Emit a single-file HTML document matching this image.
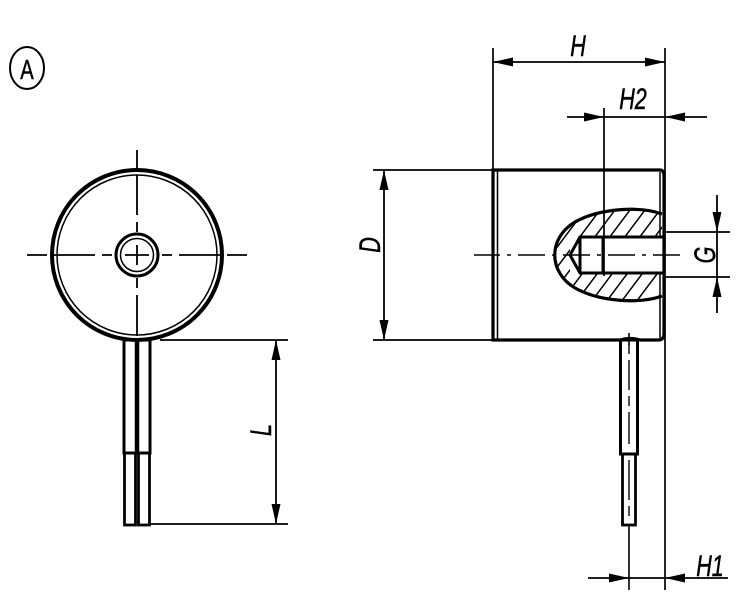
<!DOCTYPE html>
<html><head><meta charset="utf-8"><style>html,body{margin:0;padding:0;background:#fff}svg{display:block}</style></head>
<body>
<svg width="750" height="595" viewBox="0 0 750 595" xmlns="http://www.w3.org/2000/svg" font-family="Liberation Sans, sans-serif" font-style="italic">
<defs>
<marker id="a" viewBox="0 0 20 10" refX="20" refY="5" markerWidth="20" markerHeight="10" markerUnits="userSpaceOnUse" orient="auto"><path d="M0,0.5 L20,5 L0,9.5 z" fill="#000"/></marker>
<clipPath id="ell"><path d="M662,214 C640,206 600,208 575,222 C548,238 548,272 575,288 C600,302 640,304 662,296 Z"/></clipPath>
</defs>
<g stroke="#000" fill="none">
<ellipse cx="27" cy="68" rx="17" ry="21" stroke-width="2"/>
<circle cx="137" cy="255" r="85" stroke-width="4"/>
<circle cx="137" cy="255" r="80" stroke-width="1.5"/>
<circle cx="137" cy="255" r="21" stroke-width="3"/>
<circle cx="137" cy="255" r="16.5" stroke-width="1.5"/>
<path d="M137,150 V170 M137,175 V215 M137,222 V232 M137,245 V265 M137,278 V288 M137,295 V336 M27,255 H47 M52,255 H95 M102,255 H112 M125,255 H149 M162,255 H172 M179,255 H222 M227,255 H247" stroke-width="1.8"/>
<rect x="124" y="340" width="26" height="113" stroke-width="3"/>
<line x1="137" y1="340" x2="137" y2="453" stroke-width="4.5"/>
<rect x="124.5" y="453" width="11" height="72" stroke-width="2.8"/>
<rect x="138.5" y="453" width="11" height="72" stroke-width="2.8"/>
<path d="M160,340 H288 M150,524 H288" stroke-width="1.8"/>
<line x1="276" y1="380" x2="276" y2="340" stroke-width="1.8" marker-end="url(#a)"/>
<line x1="276" y1="480" x2="276" y2="524" stroke-width="1.8" marker-end="url(#a)"/>
<line x1="276" y1="380" x2="276" y2="480" stroke-width="1.8"/>
<path d="M493,170 H660 Q664,170 664,176 V334 Q664,340 658,340 H640 Q630,337 620,340 H493 Z" stroke-width="3.2"/>
<line x1="497.5" y1="171" x2="497.5" y2="339" stroke-width="1.5"/>
<line x1="660" y1="172" x2="660" y2="338" stroke-width="1.5"/>
<g clip-path="url(#ell)" stroke-width="1.5">
<path d="M540,330 L660,170 M555,330 L675,170 M570,330 L690,170 M585,330 L705,170 M600,330 L720,170 M615,330 L735,170 M525,330 L645,170 M510,330 L630,170 M495,330 L615,170"/>
<rect x="570" y="237" width="95" height="36" fill="#fff" stroke="none"/>
</g>
<path d="M662,214 C640,206 600,208 575,222 C548,238 548,272 575,288 C600,302 640,304 662,296" stroke-width="3.2"/>
<path d="M664,237 H580 L570,255 L580,273 H664 M580,237 V273" stroke-width="3"/>
<path d="M603,237 V273" stroke-width="3"/>
<path d="M474,255 H500 M507,255 H511 M518,255 H545 M552,255 H556 M563,255 H590 M597,255 H601 M608,255 H635 M642,255 H646 M653,255 H680" stroke-width="1.6"/>
<rect x="620.5" y="340" width="17" height="114" stroke-width="3"/>
<rect x="622.5" y="454" width="13" height="71" stroke-width="2.8"/>
<path d="M629,344 V354 M629,360 V390 M629,396 V406 M629,412 V444 M629,460 V500 M629,506 V516" stroke-width="1.4"/>
<line x1="629" y1="526" x2="629" y2="590" stroke-width="1.6"/>
<line x1="629" y1="333" x2="629" y2="345" stroke-width="1.6"/>
<path d="M493,48 V170 M665,48 V590 M604,108 V276" stroke-width="1.7"/>
<line x1="580" y1="62" x2="493" y2="62" stroke-width="1.8" marker-end="url(#a)"/>
<line x1="580" y1="62" x2="665" y2="62" stroke-width="1.8" marker-end="url(#a)"/>
<line x1="567" y1="117" x2="604" y2="117" stroke-width="1.8" marker-end="url(#a)"/>
<line x1="707" y1="117" x2="665" y2="117" stroke-width="1.8" marker-end="url(#a)"/>
<line x1="604" y1="117" x2="665" y2="117" stroke-width="1.8"/>
<line x1="588" y1="578" x2="629" y2="578" stroke-width="1.8" marker-end="url(#a)"/>
<line x1="728" y1="578" x2="665" y2="578" stroke-width="1.8" marker-end="url(#a)"/>
<line x1="629" y1="578" x2="665" y2="578" stroke-width="1.8"/>
<path d="M373,170 H493 M373,340 H493" stroke-width="1.8"/>
<line x1="384" y1="255" x2="384" y2="170" stroke-width="1.8" marker-end="url(#a)"/>
<line x1="384" y1="255" x2="384" y2="340" stroke-width="1.8" marker-end="url(#a)"/>
<path d="M664,232 H730 M664,277 H730" stroke-width="1.8"/>
<line x1="717" y1="195" x2="717" y2="232" stroke-width="1.8" marker-end="url(#a)"/>
<line x1="717" y1="313" x2="717" y2="277" stroke-width="1.8" marker-end="url(#a)"/>
<line x1="717" y1="232" x2="717" y2="277" stroke-width="1.8"/>
</g>
<g fill="#000" font-size="30" stroke="#000" stroke-width="0.5">
<text transform="translate(27,79) scale(0.72,1)" text-anchor="middle" font-style="normal" font-size="28">A</text>
<text transform="translate(578,56) scale(0.72,1)" text-anchor="middle">H</text>
<text transform="translate(633,109) scale(0.72,1)" text-anchor="middle">H2</text>
<text transform="translate(710,576) scale(0.72,1)" text-anchor="middle">H1</text>
<text transform="translate(380,245) rotate(-90) scale(0.72,1)" text-anchor="middle">D</text>
<text transform="translate(271,430) rotate(-90) scale(0.72,1)" text-anchor="middle">L</text>
<text transform="translate(715,255) rotate(-90) scale(0.72,1)" text-anchor="middle">G</text>
</g>
</svg>
</body></html>
